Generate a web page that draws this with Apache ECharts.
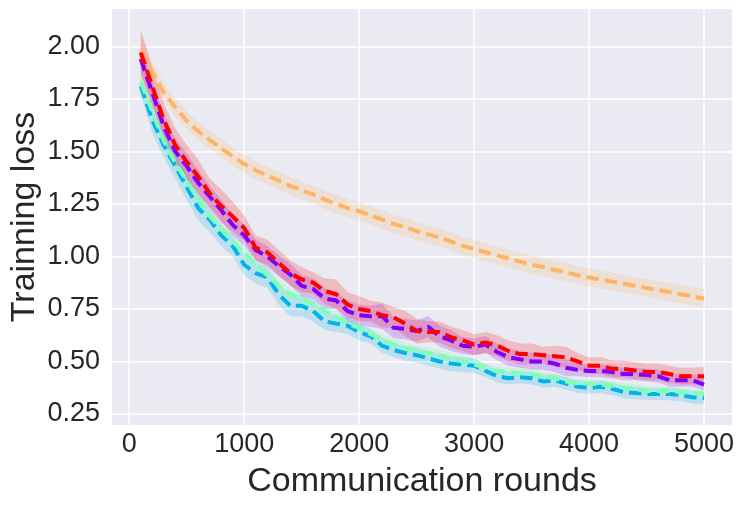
<!DOCTYPE html>
<html>
<head>
<meta charset="utf-8" />
<title>Trainning loss</title>
<script src="https://cdn.jsdelivr.net/npm/echarts@6/dist/echarts.min.js"></script>
<style>
  html, body { margin: 0; padding: 0; background: #fff; }
  #chart { width: 745px; height: 509px; }
</style>
</head>
<body>
<div id="chart"></div>
<script>
// x positions (communication rounds)
const rounds = [100,200,300,400,500,600,700,800,900,1000,
  1100,1200,1300,1400,1500,1600,1700,1800,1900,2000,
  2100,2200,2300,2400,2500,2600,2700,2800,2900,3000,
  3100,3200,3300,3400,3500,3600,3700,3800,3900,4000,
  4100,4200,4300,4400,4500,4600,4700,4800,4900,5000];

// mean loss per curve
const purpleLoss = [1.94,1.78,1.62,1.50,1.43,1.35,1.285,1.22,1.15,1.10,
  1.03,1.00,0.955,0.915,0.86,0.845,0.80,0.79,0.74,0.72,
  0.715,0.715,0.66,0.655,0.645,0.665,0.62,0.60,0.575,0.57,
  0.58,0.545,0.52,0.51,0.50,0.50,0.49,0.47,0.46,0.455,
  0.455,0.45,0.44,0.44,0.435,0.43,0.41,0.41,0.41,0.39];
const cyanLoss = [1.81,1.65,1.53,1.43,1.33,1.23,1.175,1.10,1.05,0.96,
  0.92,0.90,0.82,0.765,0.765,0.74,0.69,0.68,0.67,0.64,
  0.62,0.575,0.555,0.54,0.53,0.515,0.50,0.49,0.485,0.48,
  0.455,0.43,0.42,0.425,0.42,0.405,0.41,0.395,0.38,0.375,
  0.38,0.37,0.355,0.35,0.345,0.345,0.345,0.34,0.33,0.325];
const greenLoss = [1.83,1.69,1.55,1.445,1.36,1.27,1.19,1.13,1.07,1.02,
  0.96,0.91,0.86,0.82,0.80,0.77,0.74,0.71,0.68,0.66,
  0.63,0.605,0.58,0.565,0.55,0.54,0.53,0.515,0.50,0.485,
  0.47,0.455,0.45,0.445,0.44,0.43,0.42,0.405,0.395,0.395,
  0.39,0.385,0.375,0.37,0.36,0.36,0.36,0.355,0.35,0.345];
const orangeLoss = [1.98,1.88,1.78,1.71,1.645,1.595,1.555,1.515,1.475,1.44,
  1.41,1.385,1.36,1.335,1.315,1.295,1.27,1.25,1.23,1.215,
  1.195,1.175,1.155,1.14,1.12,1.105,1.09,1.07,1.05,1.035,
  1.02,1.005,0.99,0.975,0.96,0.95,0.935,0.925,0.91,0.90,
  0.89,0.88,0.87,0.86,0.85,0.84,0.83,0.82,0.81,0.80];
const redLoss = [1.97,1.81,1.65,1.53,1.45,1.38,1.30,1.24,1.19,1.135,
  1.04,1.02,0.97,0.92,0.89,0.875,0.835,0.82,0.77,0.75,
  0.74,0.72,0.71,0.68,0.645,0.64,0.64,0.615,0.60,0.58,
  0.59,0.575,0.55,0.535,0.535,0.53,0.525,0.52,0.50,0.48,
  0.48,0.465,0.465,0.457,0.45,0.45,0.44,0.43,0.43,0.43];

// half width of the shaded band per curve
const purpleSpread = [0.06,0.06,0.06,0.06,0.06,0.06,0.05,0.05,0.05,0.05,
  0.05,0.05,0.05,0.05,0.05,0.05,0.05,0.04,0.05,0.05,
  0.05,0.06,0.05,0.05,0.05,0.05,0.05,0.05,0.04,0.04,
  0.04,0.04,0.04,0.04,0.04,0.04,0.04,0.04,0.03,0.03,
  0.03,0.03,0.03,0.03,0.03,0.03,0.03,0.03,0.03,0.03];
const cyanSpread = [0.04,0.06,0.06,0.06,0.06,0.06,0.06,0.05,0.05,0.05,
  0.05,0.05,0.05,0.05,0.05,0.05,0.04,0.04,0.04,0.04,
  0.035,0.035,0.035,0.035,0.035,0.035,0.035,0.035,0.035,0.035,
  0.03,0.03,0.03,0.03,0.03,0.03,0.03,0.03,0.03,0.03,
  0.03,0.03,0.03,0.03,0.03,0.03,0.03,0.03,0.03,0.03];
const greenSpread = [0.04,0.04,0.04,0.035,0.035,0.03,0.03,0.03,0.03,0.03,
  0.03,0.03,0.03,0.03,0.025,0.025,0.025,0.025,0.025,0.025,
  0.025,0.025,0.025,0.025,0.025,0.025,0.025,0.025,0.025,0.025,
  0.02,0.02,0.02,0.02,0.02,0.02,0.02,0.02,0.02,0.02,
  0.02,0.02,0.02,0.02,0.02,0.02,0.02,0.02,0.02,0.02];
const orangeSpread = [0.07,0.05,0.045,0.045,0.043,0.043,0.043,0.043,0.043,0.043,
  0.043,0.043,0.043,0.043,0.043,0.043,0.043,0.043,0.043,0.043,
  0.043,0.043,0.043,0.043,0.043,0.043,0.043,0.043,0.043,0.043,
  0.043,0.043,0.043,0.043,0.043,0.043,0.043,0.043,0.043,0.043,
  0.043,0.043,0.043,0.043,0.043,0.043,0.043,0.043,0.043,0.045];
const redSpread = [0.11,0.09,0.08,0.08,0.08,0.08,0.07,0.08,0.07,0.06,
  0.06,0.06,0.06,0.06,0.06,0.05,0.06,0.07,0.06,0.06,
  0.05,0.06,0.05,0.06,0.06,0.05,0.05,0.05,0.05,0.05,
  0.05,0.05,0.05,0.05,0.05,0.04,0.05,0.05,0.04,0.04,
  0.04,0.04,0.04,0.04,0.04,0.04,0.04,0.04,0.04,0.045];

// tick labels
const xTicks = [0,1000,2000,3000,4000,5000];
const yTicks = [0.25,0.5,0.75,1.0,1.25,1.5,1.75,2.0];

// drawing order and colours (rainbow colormap)
const curves = [
  { loss: purpleLoss, spread: purpleSpread, color: '#8000ff', band: 'rgba(128,0,255,0.2)' },
  { loss: cyanLoss,   spread: cyanSpread,   color: '#00b4eb', band: 'rgba(0,180,235,0.2)' },
  { loss: greenLoss,  spread: greenSpread,  color: '#80ffb4', band: 'rgba(128,255,180,0.25)' },
  { loss: orangeLoss, spread: orangeSpread, color: '#ffb462', band: 'rgba(255,180,98,0.2)' },
  { loss: redLoss,    spread: redSpread,    color: '#ff0000', band: 'rgba(255,0,0,0.2)' }
];

const series = [];
// shaded bands: one polygon per curve, upper edge then lower edge back
curves.forEach(function(c) {
  series.push({
    type: 'custom', silent: true, z: 1,
    data: [[rounds[0], c.loss[0]]],
    renderItem: function(params, api) {
      const pts = [];
      for (let k = 0; k < rounds.length; k++) {
        pts.push(api.coord([rounds[k], c.loss[k] + c.spread[k]]));
      }
      for (let k = rounds.length - 1; k >= 0; k--) {
        pts.push(api.coord([rounds[k], c.loss[k] - c.spread[k]]));
      }
      return { type: 'polygon', shape: { points: pts }, style: { fill: c.band } };
    }
  });
});
curves.forEach(function(c) {
  series.push({
    type: 'line', symbol: 'none', z: 3,
    lineStyle: { color: c.color, width: 4, type: [12.5, 6] },
    data: rounds.map(function(x, k) { return [x, c.loss[k]]; })
  });
});

const chart = echarts.init(document.getElementById('chart'), null, { renderer: 'canvas' });
const fontFam = '"Liberation Sans", Arial, sans-serif';
chart.setOption({
  animation: false,
  backgroundColor: '#fff',
  grid: { left: 112, right: 13, top: 9, bottom: 84, outerBoundsMode: 'none',
    show: true, backgroundColor: '#eaeaf2', borderWidth: 0 },
  xAxis: {
    type: 'value', min: -150, max: 5243,
    name: 'Communication rounds', nameLocation: 'middle', nameGap: 40,
    nameTextStyle: { fontSize: 34, color: '#262626', fontFamily: fontFam },
    axisLine: { show: false },
    axisTick: { show: false, customValues: xTicks },
    axisLabel: { customValues: xTicks, fontSize: 27, color: '#262626', fontFamily: fontFam, margin: 6,
      formatter: function(v) { return String(v); } },
    splitLine: { show: true, lineStyle: { color: '#fff', width: 1.5 } }
  },
  yAxis: {
    type: 'value', min: 0.1976, max: 2.1775,
    name: 'Trainning loss', nameLocation: 'middle', nameGap: 70, nameMoveOverlap: false,
    nameTextStyle: { fontSize: 34, color: '#262626', fontFamily: fontFam },
    axisLine: { show: false },
    axisTick: { show: false, customValues: yTicks },
    axisLabel: { customValues: yTicks, fontSize: 27, color: '#262626', fontFamily: fontFam, margin: 12,
      formatter: function(v) { return v.toFixed(2); } },
    splitLine: { show: true, lineStyle: { color: '#fff', width: 1.5 } }
  },
  series: series
});
</script>
</body>
</html>
